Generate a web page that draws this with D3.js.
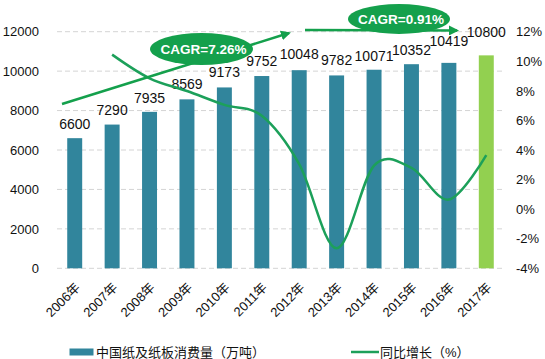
<!DOCTYPE html>
<html><head><meta charset="utf-8">
<script src="https://cdn.jsdelivr.net/npm/d3@7"></script>
<style>
html,body{margin:0;padding:0;background:#fff;}
svg{display:block;font-family:"Liberation Sans",Arial,"Noto Sans CJK SC",sans-serif;}
</style></head>
<body>
<svg id="chart" width="545" height="359"></svg>
<script>
const years = ["2006年","2007年","2008年","2009年","2010年","2011年","2012年","2013年","2014年","2015年","2016年","2017年"];
const consumption = [6600,7290,7935,8569,9173,9752,10048,9782,10071,10352,10419,10800];
const growth = [null,10.45,8.85,7.99,7.05,6.31,3.04,-2.65,2.95,2.79,0.65,3.66];
const leftTicks = [0,2000,4000,6000,8000,10000,12000];
const rightTicks = [-4,-2,0,2,4,6,8,10,12];
const labelLift = [9,10,9,10,10,10,11,10,9,9,17,18];
const cagrLabels = ["CAGR=7.26%","CAGR=0.91%"];
const legendLabels = ["中国纸及纸板消费量（万吨）","同比增长（%）"];

const svg = d3.select("#chart");
const x = d3.scaleBand().domain(years).range([56,505]).paddingInner(0.6).paddingOuter(0.3);
const yL = d3.scaleLinear().domain([0,12000]).range([268.3,31.7]);
const yR = d3.scaleLinear().domain([-4,12]).range([268.3,31.7]);

// gridlines
svg.append("g").selectAll("line").data(leftTicks).join("line")
  .attr("x1",57).attr("x2",503)
  .attr("y1",d=>yL(d)).attr("y2",d=>yL(d))
  .attr("stroke","#d4d4d4").attr("stroke-width",1).attr("stroke-dasharray","5,3");

// left axis
const axL = svg.append("g").attr("transform","translate(40,0)")
  .call(d3.axisLeft(yL).tickValues(leftTicks).tickSize(0).tickPadding(1).tickFormat(d3.format("d")));
axL.select(".domain").remove();
axL.selectAll("text").attr("font-size",13).attr("fill","#111").attr("font-family","Liberation Sans, Arial");

// right axis
const axR = svg.append("g").attr("transform","translate(516,0)")
  .call(d3.axisRight(yR).tickValues(rightTicks).tickSize(0).tickPadding(0).tickFormat(d=>d+"%"));
axR.select(".domain").remove();
axR.selectAll("text").attr("font-size",13).attr("fill","#111").attr("font-family","Liberation Sans, Arial");

// bars
svg.append("g").selectAll("rect").data(consumption).join("rect")
  .attr("x",(d,i)=>x(years[i])).attr("width",x.bandwidth())
  .attr("y",d=>yL(d)).attr("height",d=>yL(0)-yL(d))
  .attr("fill",(d,i)=>i===years.length-1?"#92d050":"#31859c");

// value labels
svg.append("g").selectAll("text").data(consumption).join("text")
  .attr("x",(d,i)=>x(years[i])+x.bandwidth()/2)
  .attr("y",(d,i)=>yL(d)-labelLift[i])
  .attr("text-anchor","middle").attr("font-size",14).attr("fill","#111")
  .text(d=>d);

// x labels
svg.append("g").selectAll("text").data(years).join("text")
  .attr("transform",d=>`translate(${x(d)+x.bandwidth()/2+3},285) rotate(-45)`)
  .attr("text-anchor","end").attr("dy","0.35em")
  .attr("font-size",13).attr("fill","#111")
  .text(d=>d);

// growth line
const lineData = growth.map((v,i)=>({k:years[i],v})).filter(d=>d.v!==null);
svg.append("path").datum(lineData)
  .attr("d",d3.line().x(d=>x(d.k)+x.bandwidth()/2).y(d=>yR(d.v)).curve(d3.curveCatmullRom.alpha(0)))
  .attr("fill","none").attr("stroke","#1ca05a").attr("stroke-width",2.5);

// arrows
const defs = svg.append("defs");
defs.append("marker").attr("id","arr").attr("viewBox","0 0 10 10").attr("refX",8).attr("refY",5)
  .attr("markerWidth",4).attr("markerHeight",4).attr("orient","auto")
  .append("path").attr("d","M0,0 L10,5 L0,10 z").attr("fill","#14a04c");
const ann = svg.append("g");
ann.append("line").attr("x1",62).attr("y1",104).attr("x2",289).attr("y2",33)
  .attr("stroke","#14a04c").attr("stroke-width",2.5).attr("marker-end","url(#arr)");
ann.append("line").attr("x1",305).attr("y1",30).attr("x2",457).attr("y2",30.5)
  .attr("stroke","#14a04c").attr("stroke-width",2.5).attr("marker-end","url(#arr)");
const ell = [{cx:201.5,cy:49,rx:51.5,ry:16},{cx:399,cy:19,rx:51,ry:15}];
ann.selectAll("ellipse").data(ell).join("ellipse")
  .attr("cx",d=>d.cx).attr("cy",d=>d.cy).attr("rx",d=>d.rx).attr("ry",d=>d.ry)
  .attr("fill","#14a04c");
ann.selectAll("text").data(ell).join("text")
  .attr("x",d=>d.cx+2).attr("y",d=>d.cy).attr("dy","0.35em")
  .attr("text-anchor","middle").attr("font-size",13.5).attr("font-weight","bold").attr("fill","#fff")
  .text((d,i)=>cagrLabels[i]);

// legend
const lg = svg.append("g");
lg.append("rect").attr("x",69.5).attr("y",348.5).attr("width",24).attr("height",7).attr("fill","#31859c");
lg.append("text").attr("x",96).attr("y",352).attr("dy","0.35em").attr("font-size",13).attr("fill","#111").text(legendLabels[0]);
lg.append("line").attr("x1",351).attr("x2",379).attr("y1",352).attr("y2",352).attr("stroke","#1ca05a").attr("stroke-width",2.5);
lg.append("text").attr("x",380).attr("y",352).attr("dy","0.35em").attr("font-size",13).attr("fill","#111").text(legendLabels[1]);
</script>
</body></html>
